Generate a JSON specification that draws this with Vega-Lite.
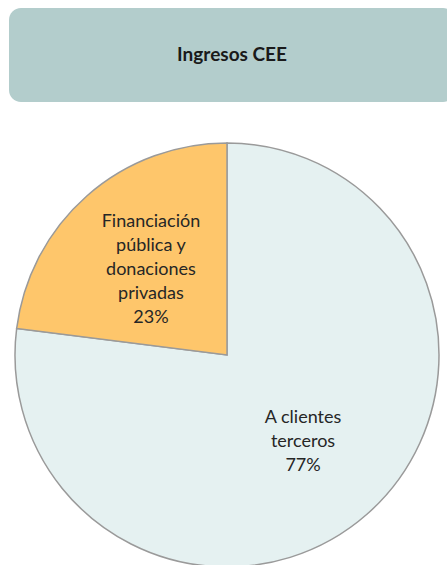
{
  "$schema": "https://vega.github.io/schema/vega-lite/v6.json",
  "padding": {"left": 9, "top": 8, "right": 0, "bottom": 0},
  "background": "white",
  "spacing": 38,
  "config": {"view": {"stroke": null}, "font": "Lato"},
  "vconcat": [
    {
      "width": 446,
      "height": 94,
      "view": {"fill": "#b3cdcc", "cornerRadius": 12, "stroke": null},
      "data": {"values": [{"titulo": "Ingresos CEE"}]},
      "mark": {"type": "text", "font": "Lato", "fontSize": 19, "fontWeight": "bold", "color": "#1a1a1a"},
      "encoding": {"text": {"field": "titulo", "type": "nominal"}}
    },
    {
      "width": 436,
      "height": 424,
      "data": {"values": [
        {"categoria": "A clientes terceros", "etiqueta": "A clientes\nterceros\n77%", "porcentaje": 77, "orden": 1},
        {"categoria": "Financiación pública y donaciones privadas", "etiqueta": "Financiación\npública y\ndonaciones\nprivadas\n23%", "porcentaje": 23, "orden": 2}
      ]},
      "encoding": {
        "theta": {"field": "porcentaje", "type": "quantitative", "stack": true},
        "order": {"field": "orden", "type": "quantitative"}
      },
      "layer": [
        {
          "mark": {"type": "arc", "outerRadius": 212, "stroke": "#9a9a9a", "strokeWidth": 1.5},
          "encoding": {
            "color": {
              "field": "categoria", "type": "nominal",
              "scale": {"domain": ["A clientes terceros", "Financiación pública y donaciones privadas"], "range": ["#e5f1f1", "#fec66b"]},
              "legend": null
            }
          }
        },
        {
          "mark": {"type": "text", "radius": 115, "dy": {"expr": "datum.orden == 2 ? -47 : -23"}, "font": "Lato", "fontSize": 18, "lineBreak": "\n", "lineHeight": 24, "color": "#262626"},
          "encoding": {"text": {"field": "etiqueta", "type": "nominal"}}
        }
      ]
    }
  ]
}
